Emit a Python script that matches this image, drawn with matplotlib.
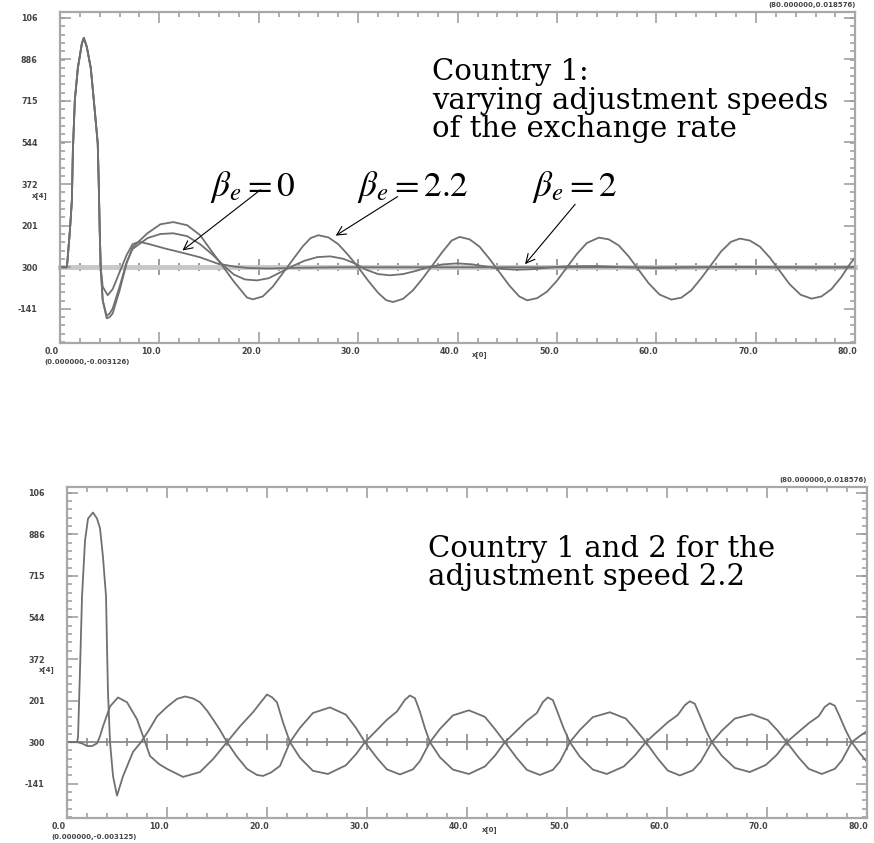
import matplotlib.pyplot as plt
import matplotlib.transforms as mtransforms
from matplotlib.ticker import MultipleLocator, FixedLocator, AutoMinorLocator

plt.rcParams['mathtext.fontset'] = 'stix'

# ---- data (time on x, x[4] relative to the zero line on y) ----
# top panel: common start peak, then the three adjustment speeds
peak_x = [0, 0.7, 1.0, 1.2, 1.3, 1.5, 1.8, 2.2, 2.4, 2.7, 3.1, 3.4, 3.8, 3.9, 4.0, 4.1]
peak_y = [0, 0, 0.15, 0.276, 0.48, 0.69, 0.82, 0.92, 0.944, 0.907, 0.82, 0.69, 0.51, 0.35, 0.15, 0]

b22_x = [4.3, 4.7, 5.0, 5.3, 6.0, 6.7, 7.3, 8.8, 10.1, 11.4, 12.8, 14.1, 15.4, 16.1, 17.4, 18.8,
         19.4, 20.4, 21.4, 22.4, 23.4, 24.4, 25.2, 26.0, 27.0, 28.0, 29.0, 30.0, 31.0, 32.0, 32.8,
         33.5, 34.5, 35.5, 36.5, 37.5, 38.5, 39.4, 40.2, 41.2, 42.2, 43.2, 44.2, 45.2, 46.2, 47.0,
         48.0, 49.0, 50.0, 51.0, 52.0, 53.0, 54.2, 55.2, 56.2, 57.2, 58.2, 59.2, 60.3, 61.5, 62.5,
         63.5, 64.5, 65.5, 66.5, 67.5, 68.4, 69.4, 70.4, 71.4, 72.4, 73.4, 74.5, 75.6, 76.6, 77.6,
         78.6, 79.4, 80.0]
b22_y = [-0.136, -0.21, -0.205, -0.19, -0.095, 0.016, 0.082, 0.14, 0.177, 0.186, 0.173, 0.132, 0.058,
         0.02, -0.054, -0.124, -0.132, -0.12, -0.08, -0.025, 0.03, 0.085, 0.12, 0.132, 0.123, 0.095,
         0.05, 0.0, -0.055, -0.105, -0.135, -0.143, -0.13, -0.095, -0.045, 0.01, 0.065, 0.11, 0.125,
         0.115, 0.085, 0.035, -0.02, -0.075, -0.12, -0.136, -0.127, -0.1, -0.055, 0.0, 0.055, 0.1,
         0.122, 0.115, 0.09, 0.045, -0.01, -0.065, -0.112, -0.133, -0.125, -0.095, -0.045, 0.01,
         0.065, 0.105, 0.118, 0.11, 0.085, 0.04, -0.015, -0.07, -0.113, -0.129, -0.12, -0.09, -0.04,
         0.01, 0.042]

b2_x = [4.3, 4.7, 5.0, 5.3, 6.0, 6.7, 7.3, 8.8, 10.1, 11.4, 12.8, 14.1, 15.4, 16.5, 17.5, 18.6, 19.8,
        21.0, 22.2, 23.4, 24.6, 25.9, 27.2, 28.5, 29.7, 30.8, 32.0, 33.2, 34.5, 35.8, 37.0, 38.5,
        40.0, 41.5, 43.0, 44.5, 46.0, 47.5, 49.0, 51.0, 54.0, 57.0, 60.0, 64.0, 68.0, 72.0, 76.0, 80.0]
b2_y = [-0.136, -0.2, -0.19, -0.17, -0.08, 0.02, 0.075, 0.12, 0.137, 0.14, 0.128, 0.095, 0.05, 0.005,
        -0.03, -0.05, -0.054, -0.045, -0.02, 0.005, 0.027, 0.042, 0.045, 0.035, 0.015, -0.01, -0.028,
        -0.033, -0.028, -0.015, 0.0, 0.012, 0.016, 0.012, 0.002, -0.007, -0.01, -0.008, -0.002, 0.004,
        0.005, 0.0, -0.003, 0.0, 0.002, 0.0, -0.001, 0.0]

b0_x = [4.3, 4.8, 5.3, 6.0, 6.7, 7.3, 8.0, 9.0, 10.5, 12.1, 14.1, 15.8, 17.5, 19.0, 21.0, 24.0, 28.0,
        40.0, 60.0, 80.0]
b0_y = [-0.08, -0.115, -0.09, -0.02, 0.05, 0.095, 0.105, 0.095, 0.078, 0.062, 0.041, 0.016, 0.003,
        -0.003, -0.005, -0.002, 0.0, 0.0, 0.0, 0.0]

# bottom panel: country 1 and country 2, adjustment speed 2.2
c1_x = [0, 1.0, 1.1, 1.3, 1.5, 1.8, 2.1, 2.6, 3.0, 3.3, 3.6, 3.9, 4.0, 4.1, 4.3, 4.6, 5.0, 5.6, 6.6,
        7.4, 8.2, 9.0, 10.0, 11.0, 11.8, 12.6, 13.3, 14.0, 14.6, 15.3, 16.0, 17.0, 18.0, 19.0, 19.6,
        20.4, 21.3, 22.3, 23.3, 24.6, 26.3, 27.9, 28.9, 29.8, 31.0, 32.0, 33.3, 34.6, 35.3, 36.3,
        37.3, 38.6, 40.2, 41.8, 42.8, 43.8, 45.0, 46.0, 47.3, 48.6, 49.3, 50.3, 51.3, 52.6, 54.3,
        55.9, 56.9, 57.9, 59.1, 60.1, 61.3, 62.6, 63.4, 64.5, 65.5, 66.8, 68.5, 70.1, 71.1, 72.0,
        73.2, 74.2, 75.5, 76.8, 77.5, 78.5, 79.3, 80.0]
c1_y = [0, 0, 0.02, 0.3, 0.6, 0.83, 0.92, 0.945, 0.92, 0.88, 0.76, 0.6, 0.39, 0.2, 0.0, -0.14, -0.22,
        -0.14, -0.04, 0.0, 0.05, 0.106, 0.145, 0.178, 0.188, 0.18, 0.164, 0.13, 0.094, 0.05, 0.0,
        -0.06, -0.11, -0.135, -0.139, -0.125, -0.098, 0.0, 0.059, 0.12, 0.143, 0.113, 0.059, 0.0,
        -0.065, -0.112, -0.133, -0.112, -0.078, 0.0, 0.054, 0.11, 0.131, 0.104, 0.054, 0.0, -0.066,
        -0.114, -0.135, -0.114, -0.08, 0.0, 0.05, 0.103, 0.123, 0.097, 0.05, 0.0, -0.068, -0.117,
        -0.137, -0.116, -0.08, 0.0, 0.047, 0.097, 0.115, 0.091, 0.047, 0.0, -0.064, -0.11, -0.131,
        -0.11, -0.076, 0.0, 0.025, 0.045]

c2_x = [0, 1.0, 1.5, 2.0, 2.5, 3.0, 3.3, 3.6, 4.3, 5.1, 6.0, 7.0, 7.6, 8.3, 9.2, 10.0, 11.6, 13.3,
        14.6, 16.0, 17.3, 18.6, 19.4, 20.0, 20.5, 21.0, 21.6, 22.3, 23.3, 24.6, 26.1, 27.9, 28.9,
        29.8, 31.0, 32.0, 33.0, 33.8, 34.3, 34.8, 35.3, 35.8, 36.3, 37.3, 38.6, 40.2, 41.8, 42.8,
        43.8, 45.0, 46.0, 47.0, 47.6, 48.1, 48.6, 49.1, 49.7, 50.3, 51.3, 52.6, 54.0, 55.7, 56.8,
        57.9, 59.1, 60.1, 61.1, 61.8, 62.3, 62.8, 63.3, 63.9, 64.5, 65.5, 66.8, 68.3, 69.9, 71.0,
        72.0, 73.2, 74.2, 75.2, 75.8, 76.3, 76.8, 77.3, 77.9, 78.5, 79.3, 80.0]
c2_y = [0, 0, -0.005, -0.016, -0.016, -0.005, 0.025, 0.065, 0.147, 0.184, 0.164, 0.094, 0.025,
        -0.057, -0.09, -0.11, -0.143, -0.123, -0.07, 0.0, 0.065, 0.123, 0.165, 0.196, 0.185, 0.164,
        0.082, 0.0, -0.064, -0.118, -0.131, -0.095, -0.05, 0.0, 0.05, 0.092, 0.126, 0.174, 0.192,
        0.181, 0.126, 0.058, 0.0, -0.062, -0.113, -0.131, -0.1, -0.056, 0.0, 0.048, 0.088, 0.12,
        0.165, 0.184, 0.173, 0.12, 0.055, 0.0, -0.06, -0.113, -0.131, -0.1, -0.055, 0.0, 0.045,
        0.082, 0.112, 0.152, 0.168, 0.158, 0.11, 0.05, 0.0, -0.056, -0.106, -0.123, -0.094, -0.052,
        0.0, 0.043, 0.078, 0.107, 0.145, 0.16, 0.15, 0.105, 0.048, 0.0, -0.045, -0.08]

# axis ticks / labels as printed
ytick_vals = [1.027, 0.856, 0.685, 0.514, 0.342, 0.171, 0.0, -0.171]
ytick_labels = ['106', '886', '715', '544', '372', '201', '300', '-141']
xtick_vals = [0, 10, 20, 30, 40, 50, 60, 70, 80]
xtick_labels = ['0.0', '10.0', '20.0', '30.0', '40.0', '50.0', '60.0', '70.0', '80.0']

frame_c = '#a8a8a8'
line_c = '#707070'

fig = plt.figure(figsize=(8.74, 8.43), dpi=100)
ax1 = fig.add_axes([0.0686, 0.593, 0.910, 0.3926])
ax2 = fig.add_axes([0.0767, 0.0297, 0.915, 0.3926])


def style_panel(ax, corner_lo, corner_hi, base_lw, base_c):
    ax.set_xlim(0, 80)
    ax.set_ylim(-0.312, 1.05)
    for s in ax.spines.values():
        s.set_color(frame_c)
        s.set_linewidth(1.6)
    ax.set_xticks(xtick_vals, xtick_labels)
    ax.set_yticks(ytick_vals, ytick_labels)
    ax.yaxis.set_minor_locator(AutoMinorLocator(5))
    ax.xaxis.set_minor_locator(MultipleLocator(2))
    ax.tick_params(which='both', direction='in', top=True, right=True, color='#999999',
                   width=1.1, labelsize=5.8, labelcolor='#444444')
    ax.tick_params(which='major', length=8)
    ax.tick_params(which='minor', length=3.5)
    ax.tick_params(axis='y', pad=16)
    ax.tick_params(axis='x', pad=3)
    for lab in ax.get_xticklabels() + ax.get_yticklabels():
        lab.set_fontweight('bold')
    off = mtransforms.ScaledTranslation(-0.08, 0, fig.dpi_scale_trans)
    for lab in ax.get_xticklabels():
        lab.set_transform(lab.get_transform() + off)

    # zero line with its own crossing ticks
    sec = ax.secondary_xaxis(0, transform=ax.transData)
    sec.spines['bottom'].set_color(base_c)
    sec.spines['bottom'].set_linewidth(base_lw)
    sec.xaxis.set_major_locator(MultipleLocator(10))
    sec.xaxis.set_minor_locator(MultipleLocator(2))
    sec.tick_params(which='both', direction='inout', color='#808080', width=1.1,
                    labelbottom=False)
    sec.tick_params(which='major', length=11)
    sec.tick_params(which='minor', length=6)

    small = dict(fontsize=5, fontweight='bold', color='#444444', transform=ax.transAxes)
    ax.text(-0.02, -0.057, corner_lo, ha='left', va='center', **small)
    ax.text(1.0, 1.022, corner_hi, ha='right', va='center', **small)
    ax.text(-0.025, 0.447, 'x[4]', ha='center', va='center', **small)
    ax.text(0.528, -0.034, 'x[0]', ha='center', va='center', **small)


style_panel(ax1, '(0.000000,-0.003126)', '(80.000000,0.018576)', 3.5, '#c8c8c8')
style_panel(ax2, '(0.000000,-0.003125)', '(80.000000,0.018576)', 1.3, '#8a8a8a')

# top panel curves
ax1.plot(peak_x + b22_x, peak_y + b22_y, color=line_c, lw=1.3)
ax1.plot(peak_x + b2_x, peak_y + b2_y, color=line_c, lw=1.3)
ax1.plot(peak_x + b0_x, peak_y + b0_y, color=line_c, lw=1.3)

ax1.text(37.4, 0.685, 'Country 1:\nvarying adjustment speeds\nof the exchange rate',
         ha='left', va='center', fontsize=21, family='DejaVu Serif', linespacing=1.02)

arrow = dict(arrowstyle='->', color='black', lw=0.8, mutation_scale=16)
ax1.annotate('', xy=(12.1, 0.062), xytext=(20.4, 0.326), arrowprops=arrow)
ax1.annotate('', xy=(27.5, 0.124), xytext=(34.2, 0.297), arrowprops=arrow)
ax1.annotate('', xy=(46.6, 0.004), xytext=(52.0, 0.268), arrowprops=arrow)
ax1.text(15.1, 0.33, r'$\beta_e = 0$', ha='left', va='center', fontsize=25.5)
ax1.text(29.9, 0.33, r'$\beta_e = 2.2$', ha='left', va='center', fontsize=25.5)
ax1.text(47.5, 0.33, r'$\beta_e = 2$', ha='left', va='center', fontsize=25.5)

# bottom panel curves
ax2.plot(c1_x, c1_y, color=line_c, lw=1.3)
ax2.plot(c2_x, c2_y, color=line_c, lw=1.3)
ax2.text(36.1, 0.738, 'Country 1 and 2 for the\nadjustment speed 2.2',
         ha='left', va='center', fontsize=21, family='DejaVu Serif', linespacing=1.02)

fig.savefig('out.png', dpi=100)
